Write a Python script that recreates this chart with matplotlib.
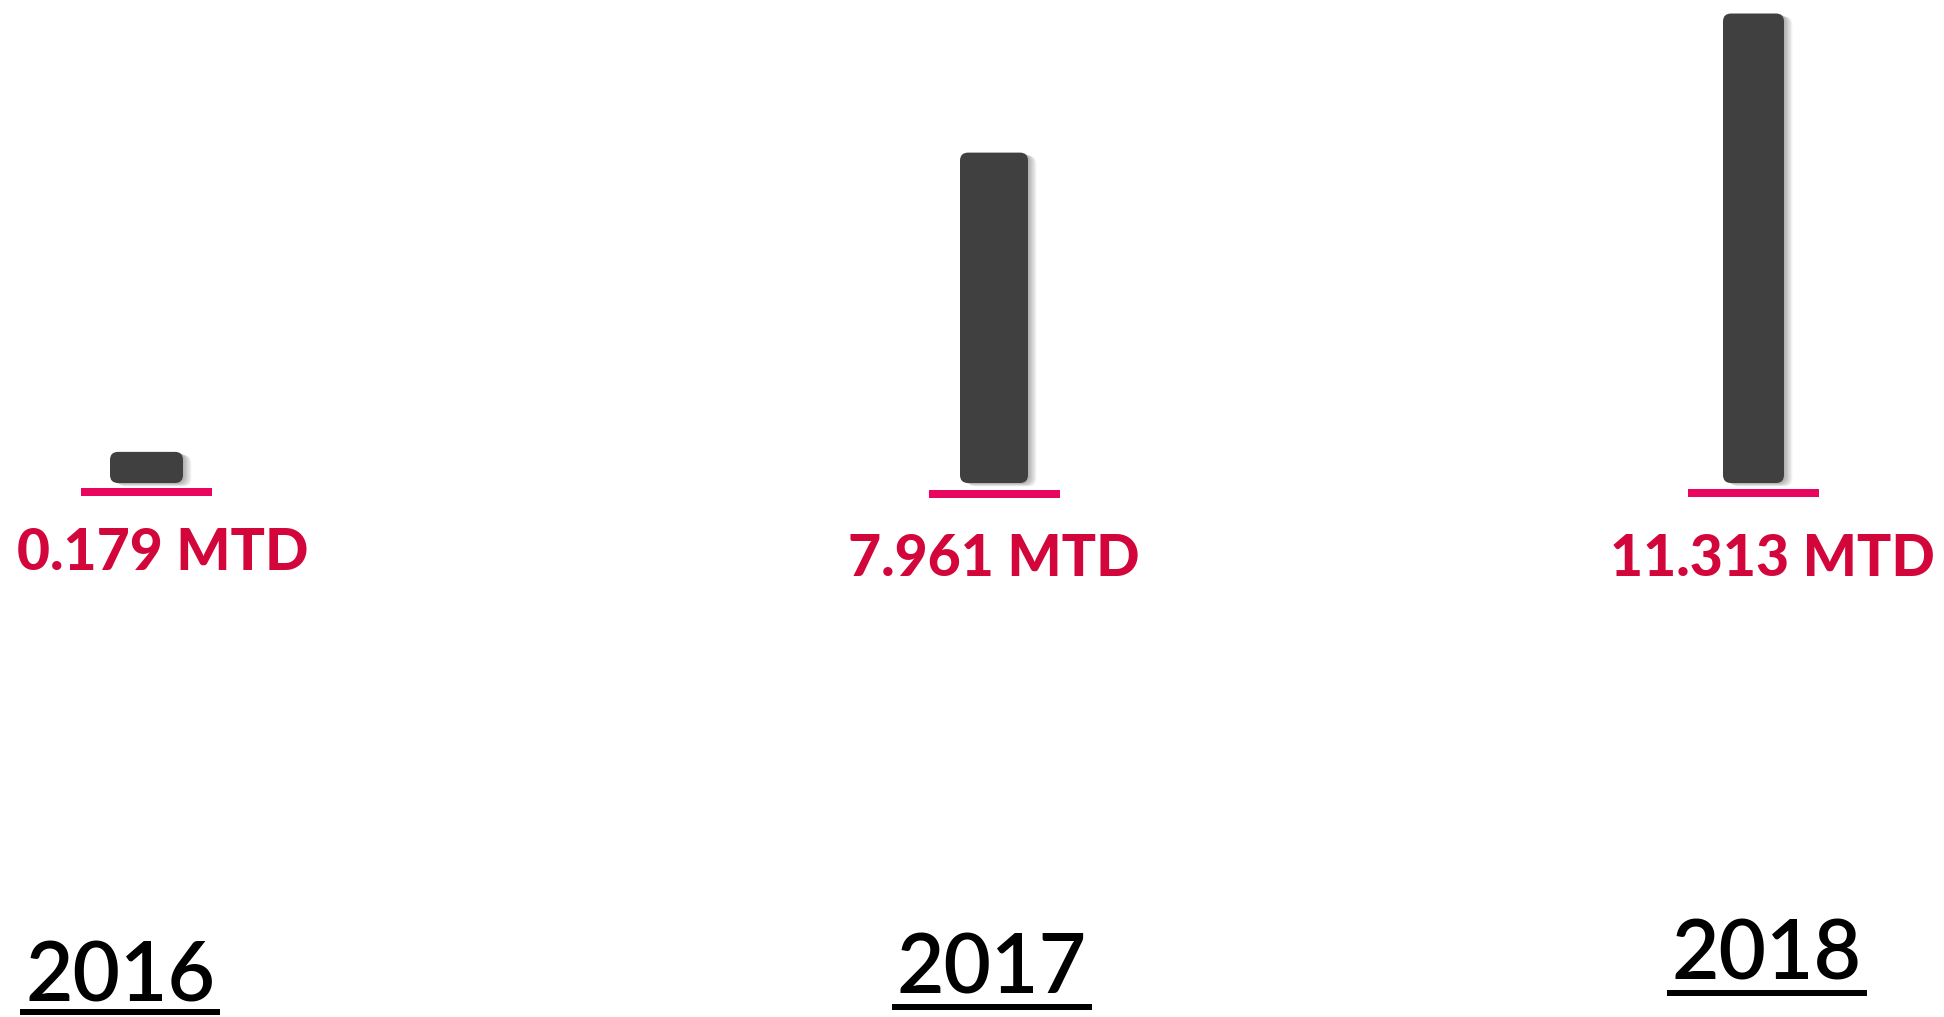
import matplotlib
matplotlib.use('Agg')
import matplotlib.pyplot as plt
from matplotlib.patches import FancyBboxPatch
from matplotlib.lines import Line2D
import matplotlib.patheffects as pe

# ---- data ----
years = ['2016', '2017', '2018']
values = [0.179, 7.961, 11.313]
value_labels = ['0.179 MTD', '7.961 MTD', '11.313 MTD']

# ---- layout / style (pixels, from top-left) ----
W, H, DPI = 1944, 1017, 100
BAR_CX = [146.5, 994, 1753.5]
BAR_W = [73, 68, 61]
BASE_Y = 483
PX_PER_UNIT = 41.5
MIN_H = 0.75          # minimum visible bar height (value units)
AX_W = 300
PINK_OFF = [9, 11, 10]
PINK_HALF = 65.5
LABEL_X = [162.5, 993.5, 1772]
LABEL_BASE = [570, 576, 576]
YEAR_X = [120, 992, 1767]
YEAR_BASE = [1002, 993, 980]
UL_Y = [1012, 1007, 993]

BAR_COLOR = '#404040'
PINK = '#E8065E'
LABEL_COLOR = '#D2063A'

fig = plt.figure(figsize=(W / DPI, H / DPI), dpi=DPI)
fig.patch.set_facecolor('white')

shadow = [pe.SimplePatchShadow(offset=(o, -o * 0.4), shadow_rgbFace='#000000', alpha=0.055)
          for o in (1.0, 2.0, 3.0, 4.0, 5.0, 6.0)] + [pe.Normal()]

for i, v in enumerate(values):
    cx = BAR_CX[i]
    ax = fig.add_axes([(cx - AX_W / 2) / W, (H - BASE_Y) / H, AX_W / W, BASE_Y / H])
    ax.set_xlim(-AX_W / 2, AX_W / 2)
    ax.set_ylim(0, BASE_Y / PX_PER_UNIT)
    ax.axis('off')
    bars = ax.bar([0], [max(v, MIN_H)], width=BAR_W[i], color='none')
    r = bars[0]
    fb = FancyBboxPatch((r.get_x(), r.get_y()), r.get_width(), r.get_height(),
                        boxstyle='round,pad=0,rounding_size=8',
                        mutation_aspect=1 / PX_PER_UNIT,
                        fc=BAR_COLOR, ec='none', path_effects=shadow, clip_on=False)
    r.remove()
    ax.add_patch(fb)
    yline = -PINK_OFF[i] / PX_PER_UNIT
    ax.plot([-PINK_HALF, PINK_HALF], [yline, yline], color=PINK, lw=8 * 72 / DPI,
            solid_capstyle='butt', clip_on=False)

    fig.text(LABEL_X[i] / W, 1 - LABEL_BASE[i] / H, value_labels[i],
             ha='center', va='baseline', color=LABEL_COLOR,
             fontsize=41, fontweight='black', family='Lato')

year_texts = []
for i, y in enumerate(years):
    t = fig.text(YEAR_X[i] / W, 1 - YEAR_BASE[i] / H, y, ha='center', va='baseline',
                 color='black', fontsize=59, fontweight='semibold', family='Lato')
    year_texts.append(t)

fig.canvas.draw()
renderer = fig.canvas.get_renderer()
for i, t in enumerate(year_texts):
    bb = t.get_window_extent(renderer)
    yy = 1 - UL_Y[i] / H
    fig.add_artist(Line2D([(bb.x0 - 5) / W, (bb.x1 + 5) / W], [yy, yy],
                          transform=fig.transFigure, color='black',
                          lw=6 * 72 / DPI, solid_capstyle='butt'))

fig.savefig('out.png', dpi=DPI, facecolor='white')
